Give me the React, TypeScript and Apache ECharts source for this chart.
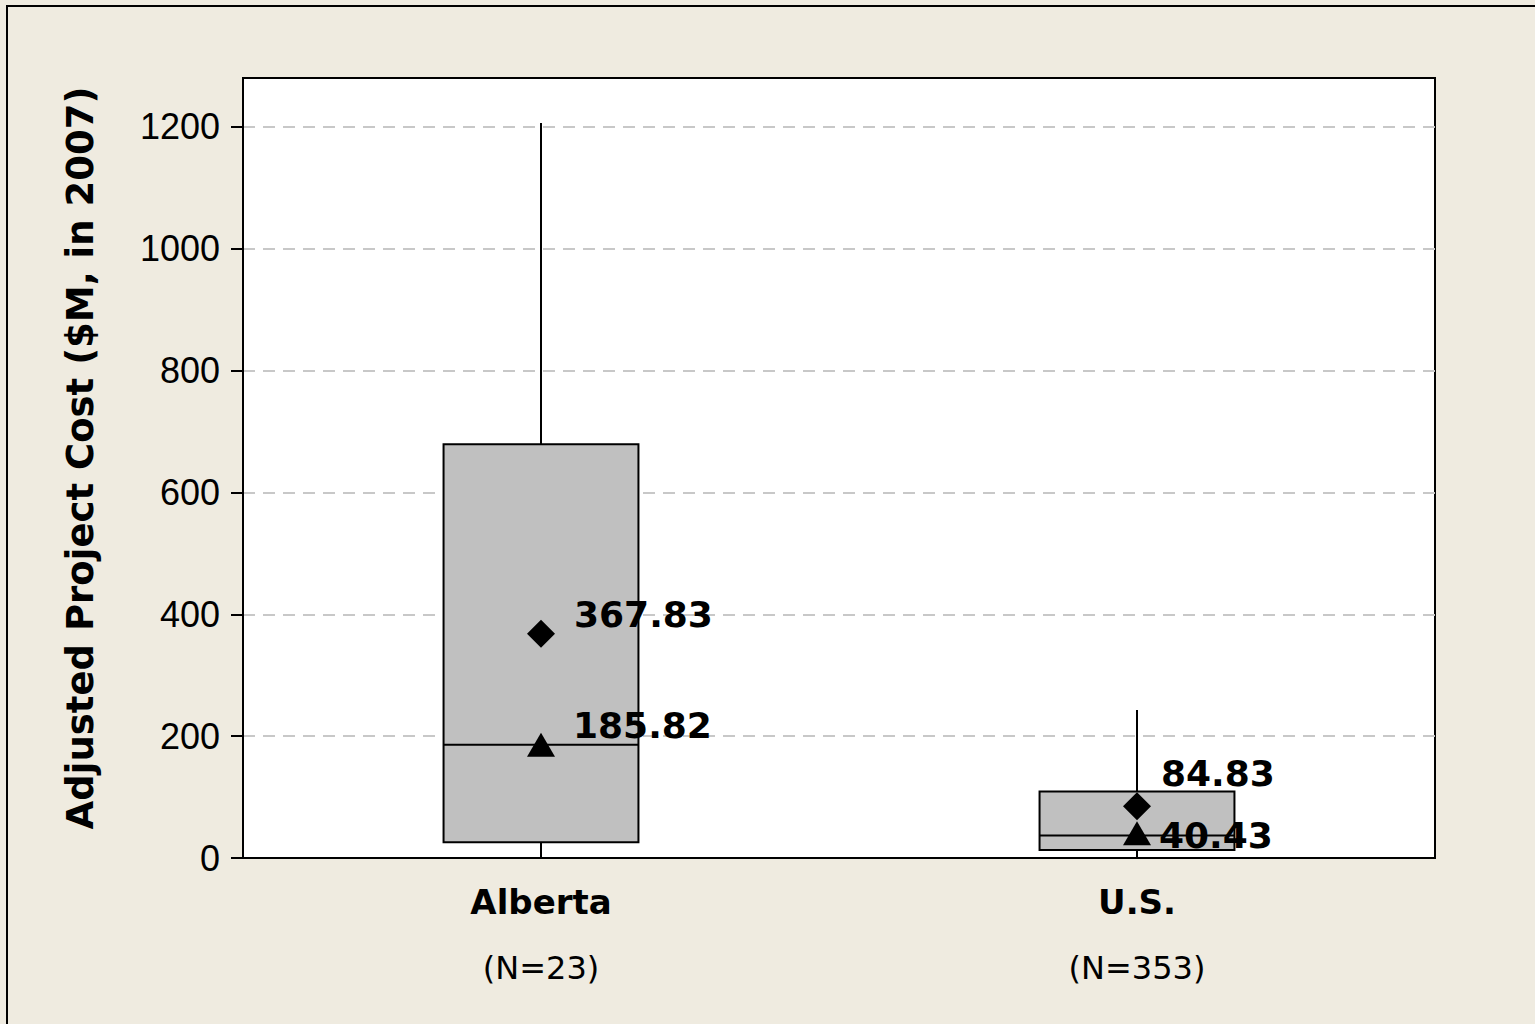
import { useEffect, useRef } from "react";
import * as echarts from "echarts";

// ---- data ----
const categories = ["Alberta", "U.S."];
const sampleSizes = ["(N=23)", "(N=353)"];
const boxMin = [1, 0.5];
const boxQ1 = [26, 13];
const boxMedian = [186, 37];
const boxQ3 = [679, 109];
const boxMax = [1206, 243];
const meanValues = [367.83, 84.83];
const medianValues = [185.82, 40.43];
const yTicks = [0, 200, 400, 600, 800, 1000, 1200];
const yMin = 0;
const yMax = 1280;
const yInterval = 200;
const yTitle = "Adjusted Project Cost ($M, in 2007)";

export default function App() {
  const ref = useRef<HTMLDivElement>(null);

  useEffect(() => {
    document.body.style.margin = "0";
    if (!ref.current) return;
    const chart = echarts.init(ref.current, undefined, { renderer: "svg" });

    const boxData = categories.map((_, i) => [i, boxMin[i], boxQ1[i], boxMedian[i], boxQ3[i], boxMax[i]]);
    const meanOffsets = [[19, -19], [10, -33]];
    const medianOffsets = [[18, -19], [8, 2]];
    const labelFont = {
      fontFamily: "DejaVu Sans",
      fontWeight: "bold" as const,
      fontSize: 36,
      color: "#000",
    };

    const option: any = {
      animation: false,
      backgroundColor: "#EFEBE0",
      grid: {
        left: 243,
        right: 100,
        top: 78,
        bottom: 166,
        show: true,
        backgroundColor: "#ffffff",
        borderColor: "#000",
        borderWidth: 2,
      },
      xAxis: {
        type: "category",
        data: categories,
        boundaryGap: true,
        axisLine: { lineStyle: { color: "#000", width: 2 } },
        axisTick: { alignWithLabel: true, length: 12, lineStyle: { color: "#000", width: 2 } },
        splitLine: { show: false },
        axisLabel: {
          margin: 24,
          formatter: (v: string, i: number) => `{b|${v}}\n{n|${sampleSizes[i]}}`,
          rich: {
            b: { fontFamily: "DejaVu Sans", fontWeight: "bold", fontSize: 34, lineHeight: 40, color: "#000" },
            n: { fontFamily: "DejaVu Sans", fontSize: 32, lineHeight: 92, color: "#000" },
          },
        },
      },
      yAxis: {
        type: "value",
        min: yMin,
        max: yMax,
        interval: yInterval,
        axisLine: { show: true, lineStyle: { color: "#000", width: 2 } },
        axisTick: { show: true, length: 12, customValues: yTicks, lineStyle: { color: "#000", width: 2 } },
        axisLabel: {
          customValues: yTicks,
          margin: 23,
          fontFamily: "Liberation Sans",
          fontSize: 36,
          color: "#000",
          formatter: (v: number) => String(v),
        },
        splitLine: {
          show: true,
          lineStyle: { color: "#c8c8c8", width: 2, type: [12, 8] },
        },
      },
      graphic: [
        {
          type: "rect",
          x: 7,
          y: 6,
          shape: { x: 0, y: 0, width: 1600, height: 1100 },
          style: { fill: "none", stroke: "#000", lineWidth: 2 },
          silent: true,
          z: 100,
        },
        {
          type: "text",
          x: 80,
          y: 458,
          rotation: Math.PI / 2,
          style: {
            text: yTitle,
            font: 'bold 37px "DejaVu Sans"',
            fill: "#000",
            textAlign: "center",
            textVerticalAlign: "middle",
          },
        },
      ],
      series: [
        {
          type: "custom",
          data: boxData,
          encode: { x: 0, y: [1, 2, 3, 4, 5] },
          z: 2,
          renderItem: (params: any, api: any) => {
            const idx = api.value(0);
            const lo = api.coord([idx, api.value(1)]);
            const q1 = api.coord([idx, api.value(2)]);
            const med = api.coord([idx, api.value(3)]);
            const q3 = api.coord([idx, api.value(4)]);
            const hi = api.coord([idx, api.value(5)]);
            const bw = api.size([1, 0])[0] * 0.327;
            const x = q1[0];
            const ls = { stroke: "#000", lineWidth: 2 };
            return {
              type: "group",
              children: [
                { type: "line", shape: { x1: x, y1: hi[1], x2: x, y2: q3[1] }, style: ls },
                { type: "line", shape: { x1: x, y1: q1[1], x2: x, y2: lo[1] }, style: ls },
                {
                  type: "rect",
                  shape: { x: x - bw / 2, y: q3[1], width: bw, height: q1[1] - q3[1] },
                  style: { fill: "#c0c0c0", stroke: "#000", lineWidth: 2 },
                },
                { type: "line", shape: { x1: x - bw / 2, y1: med[1], x2: x + bw / 2, y2: med[1] }, style: ls },
              ],
            };
          },
        },
        {
          type: "scatter",
          symbol: "diamond",
          symbolSize: 28,
          z: 5,
          itemStyle: { color: "#000", opacity: 1 },
          data: meanValues.map((v, i) => ({
            value: [i, v],
            label: { offset: meanOffsets[i] },
          })),
          label: {
            show: true,
            position: "right",
            distance: 0,
            formatter: (p: any) => p.value[1].toFixed(2),
            ...labelFont,
          },
        },
        {
          type: "scatter",
          symbol: "triangle",
          symbolSize: [28, 24],
          z: 5,
          itemStyle: { color: "#000", opacity: 1 },
          data: medianValues.map((v, i) => ({
            value: [i, v],
            label: { offset: medianOffsets[i] },
          })),
          label: {
            show: true,
            position: "right",
            distance: 0,
            formatter: (p: any) => p.value[1].toFixed(2),
            ...labelFont,
          },
        },
      ],
    };

    chart.setOption(option);
    return () => chart.dispose();
  }, []);

  return (
    <div
      ref={ref}
      style={{ position: "fixed", left: 0, top: 0, width: 1535, height: 1024 }}
    />
  );
}
